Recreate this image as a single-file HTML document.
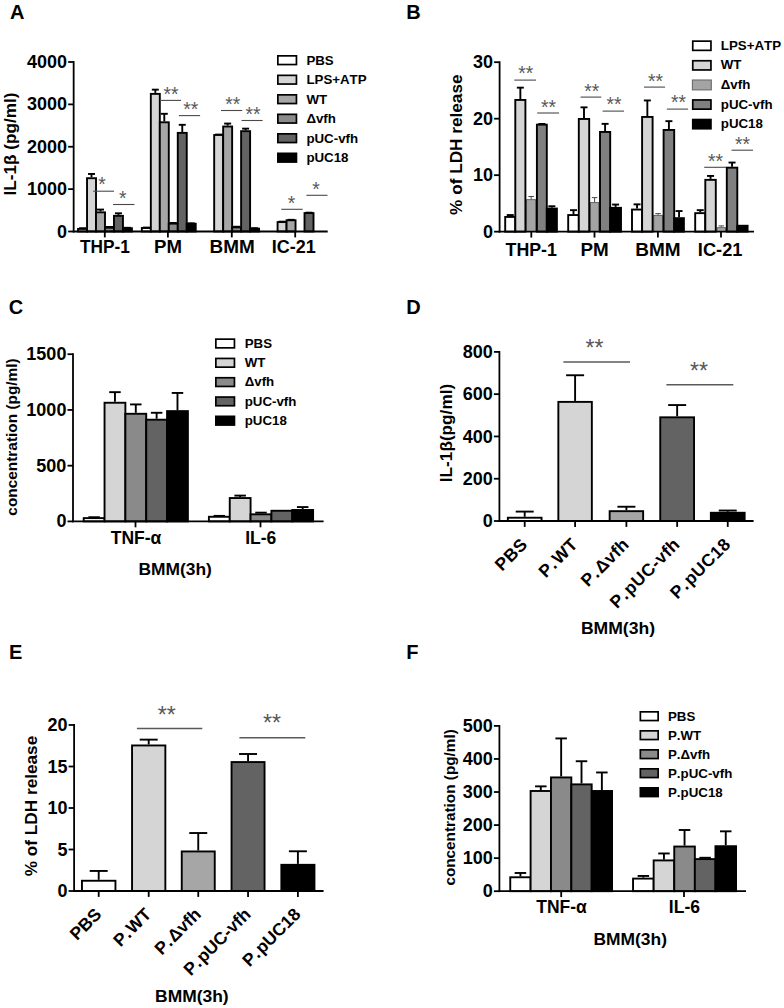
<!DOCTYPE html>
<html><head><meta charset="utf-8"><title>Figure</title>
<style>
html,body{margin:0;padding:0;background:#fff;}
svg{display:block;}
text{font-family:"Liberation Sans",sans-serif;font-kerning:none;}
</style></head>
<body>
<svg width="784" height="1008" viewBox="0 0 784 1008">
<rect x="0" y="0" width="784" height="1008" fill="#ffffff"/>
<text x="10" y="19" font-family='"Liberation Sans", sans-serif' font-size="20" font-weight="bold" text-anchor="start" fill="#000">A</text>
<text transform="translate(16,144) rotate(-90)" font-family='"Liberation Sans", sans-serif' font-size="17.2" font-weight="bold" text-anchor="middle">IL-1β (pg/ml)</text>
<line x1="82.54" y1="227.98" x2="82.54" y2="228.21" stroke="#000" stroke-width="1.9"/>
<line x1="79.04" y1="228.21" x2="86.04" y2="228.21" stroke="#000" stroke-width="1.9"/>
<rect x="78.05" y="228.93" width="8.98" height="2.57" fill="#ffffff" stroke="#000" stroke-width="1.9"/>
<line x1="91.52" y1="177.26" x2="91.52" y2="173.97" stroke="#000" stroke-width="1.9"/>
<line x1="88.02" y1="173.97" x2="95.02" y2="173.97" stroke="#000" stroke-width="1.9"/>
<rect x="87.03" y="178.21" width="8.98" height="53.29" fill="#d5d5d5" stroke="#000" stroke-width="1.9"/>
<line x1="100.5" y1="211.37" x2="100.5" y2="209.57" stroke="#000" stroke-width="1.9"/>
<line x1="97" y1="209.57" x2="104" y2="209.57" stroke="#000" stroke-width="1.9"/>
<rect x="96.01" y="212.32" width="8.98" height="19.18" fill="#a6a6a6" stroke="#000" stroke-width="1.9"/>
<line x1="109.48" y1="226.8" x2="109.48" y2="226.94" stroke="#000" stroke-width="1.9"/>
<line x1="105.98" y1="226.94" x2="112.98" y2="226.94" stroke="#000" stroke-width="1.9"/>
<rect x="104.99" y="227.75" width="8.98" height="3.75" fill="#8a8a8a" stroke="#000" stroke-width="1.9"/>
<line x1="118.46" y1="214.89" x2="118.46" y2="213.3" stroke="#000" stroke-width="1.9"/>
<line x1="114.96" y1="213.3" x2="121.96" y2="213.3" stroke="#000" stroke-width="1.9"/>
<rect x="113.97" y="215.84" width="8.98" height="15.66" fill="#636363" stroke="#000" stroke-width="1.9"/>
<line x1="127.44" y1="227.26" x2="127.44" y2="227.79" stroke="#000" stroke-width="1.9"/>
<line x1="123.94" y1="227.79" x2="130.94" y2="227.79" stroke="#000" stroke-width="1.9"/>
<rect x="122.95" y="228.21" width="8.98" height="3.29" fill="#000000" stroke="#000" stroke-width="1.9"/>
<line x1="146.34" y1="227.05" x2="146.34" y2="227.58" stroke="#000" stroke-width="1.9"/>
<line x1="142.84" y1="227.58" x2="149.84" y2="227.58" stroke="#000" stroke-width="1.9"/>
<rect x="141.85" y="228" width="8.98" height="3.5" fill="#ffffff" stroke="#000" stroke-width="1.9"/>
<line x1="155.32" y1="92.93" x2="155.32" y2="89.65" stroke="#000" stroke-width="1.9"/>
<line x1="151.82" y1="89.65" x2="158.82" y2="89.65" stroke="#000" stroke-width="1.9"/>
<rect x="150.83" y="93.88" width="8.98" height="137.62" fill="#d5d5d5" stroke="#000" stroke-width="1.9"/>
<line x1="164.3" y1="121.33" x2="164.3" y2="113.8" stroke="#000" stroke-width="1.9"/>
<line x1="160.8" y1="113.8" x2="167.8" y2="113.8" stroke="#000" stroke-width="1.9"/>
<rect x="159.81" y="122.28" width="8.98" height="109.22" fill="#a6a6a6" stroke="#000" stroke-width="1.9"/>
<line x1="173.28" y1="222.69" x2="173.28" y2="222.92" stroke="#000" stroke-width="1.9"/>
<line x1="169.78" y1="222.92" x2="176.78" y2="222.92" stroke="#000" stroke-width="1.9"/>
<rect x="168.79" y="223.64" width="8.98" height="7.86" fill="#8a8a8a" stroke="#000" stroke-width="1.9"/>
<line x1="182.26" y1="131.92" x2="182.26" y2="124.82" stroke="#000" stroke-width="1.9"/>
<line x1="178.76" y1="124.82" x2="185.76" y2="124.82" stroke="#000" stroke-width="1.9"/>
<rect x="177.77" y="132.87" width="8.98" height="98.63" fill="#636363" stroke="#000" stroke-width="1.9"/>
<line x1="191.24" y1="222.81" x2="191.24" y2="223.34" stroke="#000" stroke-width="1.9"/>
<line x1="187.74" y1="223.34" x2="194.74" y2="223.34" stroke="#000" stroke-width="1.9"/>
<rect x="186.75" y="223.76" width="8.98" height="7.74" fill="#000000" stroke="#000" stroke-width="1.9"/>
<line x1="218.67" y1="134.04" x2="218.67" y2="134.56" stroke="#000" stroke-width="1.9"/>
<line x1="215.17" y1="134.56" x2="222.17" y2="134.56" stroke="#000" stroke-width="1.9"/>
<rect x="214.18" y="134.99" width="8.98" height="96.51" fill="#d5d5d5" stroke="#000" stroke-width="1.9"/>
<line x1="227.65" y1="125.56" x2="227.65" y2="123.55" stroke="#000" stroke-width="1.9"/>
<line x1="224.15" y1="123.55" x2="231.15" y2="123.55" stroke="#000" stroke-width="1.9"/>
<rect x="223.16" y="126.51" width="8.98" height="104.99" fill="#a6a6a6" stroke="#000" stroke-width="1.9"/>
<line x1="236.63" y1="226.41" x2="236.63" y2="226.73" stroke="#000" stroke-width="1.9"/>
<line x1="233.13" y1="226.73" x2="240.13" y2="226.73" stroke="#000" stroke-width="1.9"/>
<rect x="232.14" y="227.36" width="8.98" height="4.14" fill="#8a8a8a" stroke="#000" stroke-width="1.9"/>
<line x1="245.61" y1="130.22" x2="245.61" y2="128.63" stroke="#000" stroke-width="1.9"/>
<line x1="242.11" y1="128.63" x2="249.11" y2="128.63" stroke="#000" stroke-width="1.9"/>
<rect x="241.12" y="131.17" width="8.98" height="100.33" fill="#636363" stroke="#000" stroke-width="1.9"/>
<line x1="254.59" y1="227.69" x2="254.59" y2="228.21" stroke="#000" stroke-width="1.9"/>
<line x1="251.09" y1="228.21" x2="258.09" y2="228.21" stroke="#000" stroke-width="1.9"/>
<rect x="250.1" y="228.64" width="8.98" height="2.86" fill="#000000" stroke="#000" stroke-width="1.9"/>
<line x1="282.07" y1="221.12" x2="282.07" y2="221.64" stroke="#000" stroke-width="1.9"/>
<line x1="278.57" y1="221.64" x2="285.57" y2="221.64" stroke="#000" stroke-width="1.9"/>
<rect x="277.58" y="222.07" width="8.98" height="9.43" fill="#d5d5d5" stroke="#000" stroke-width="1.9"/>
<line x1="291.05" y1="219.3" x2="291.05" y2="219.82" stroke="#000" stroke-width="1.9"/>
<line x1="287.55" y1="219.82" x2="294.55" y2="219.82" stroke="#000" stroke-width="1.9"/>
<rect x="286.56" y="220.25" width="8.98" height="11.25" fill="#a6a6a6" stroke="#000" stroke-width="1.9"/>
<line x1="309.01" y1="212.13" x2="309.01" y2="212.66" stroke="#000" stroke-width="1.9"/>
<line x1="305.51" y1="212.66" x2="312.51" y2="212.66" stroke="#000" stroke-width="1.9"/>
<rect x="304.52" y="213.08" width="8.98" height="18.42" fill="#636363" stroke="#000" stroke-width="1.9"/>
<line x1="73.65" y1="61.1" x2="73.65" y2="232.4" stroke="#000" stroke-width="1.8"/>
<line x1="68.15" y1="231.5" x2="73.65" y2="231.5" stroke="#000" stroke-width="1.8"/>
<text x="67.05" y="237.55" font-family='"Liberation Sans", sans-serif' font-size="18" font-weight="bold" text-anchor="end" fill="#000">0</text>
<line x1="68.15" y1="189.12" x2="73.65" y2="189.12" stroke="#000" stroke-width="1.8"/>
<text x="67.05" y="195.18" font-family='"Liberation Sans", sans-serif' font-size="18" font-weight="bold" text-anchor="end" fill="#000">1000</text>
<line x1="68.15" y1="146.75" x2="73.65" y2="146.75" stroke="#000" stroke-width="1.8"/>
<text x="67.05" y="152.8" font-family='"Liberation Sans", sans-serif' font-size="18" font-weight="bold" text-anchor="end" fill="#000">2000</text>
<line x1="68.15" y1="104.38" x2="73.65" y2="104.38" stroke="#000" stroke-width="1.8"/>
<text x="67.05" y="110.42" font-family='"Liberation Sans", sans-serif' font-size="18" font-weight="bold" text-anchor="end" fill="#000">3000</text>
<line x1="68.15" y1="62" x2="73.65" y2="62" stroke="#000" stroke-width="1.8"/>
<text x="67.05" y="68.05" font-family='"Liberation Sans", sans-serif' font-size="18" font-weight="bold" text-anchor="end" fill="#000">4000</text>
<line x1="72.75" y1="231.5" x2="327.7" y2="231.5" stroke="#000" stroke-width="1.8"/>
<line x1="104.8" y1="231.5" x2="104.8" y2="237.4" stroke="#000" stroke-width="1.8"/>
<line x1="167.9" y1="231.5" x2="167.9" y2="237.4" stroke="#000" stroke-width="1.8"/>
<line x1="231.8" y1="231.5" x2="231.8" y2="237.4" stroke="#000" stroke-width="1.8"/>
<line x1="295.2" y1="231.5" x2="295.2" y2="237.4" stroke="#000" stroke-width="1.8"/>
<text x="80.08" y="253.4" font-family='"Liberation Sans", sans-serif' font-size="17.5" font-weight="bold" textLength="49.82" lengthAdjust="spacingAndGlyphs">THP-1</text>
<text x="154.14" y="253.4" font-family='"Liberation Sans", sans-serif' font-size="17.5" font-weight="bold" textLength="27.91" lengthAdjust="spacingAndGlyphs">PM</text>
<text x="209.52" y="253.4" font-family='"Liberation Sans", sans-serif' font-size="17.5" font-weight="bold" textLength="45.17" lengthAdjust="spacingAndGlyphs">BMM</text>
<text x="271.79" y="253.4" font-family='"Liberation Sans", sans-serif' font-size="17.5" font-weight="bold" textLength="44.02" lengthAdjust="spacingAndGlyphs">IC-21</text>
<line x1="93.2" y1="191.2" x2="114" y2="191.2" stroke="#4a4a4a" stroke-width="1.1"/>
<text x="102" y="191.4" font-family='"Liberation Sans", sans-serif' font-size="19.3" text-anchor="middle" fill="#585858">*</text>
<line x1="113" y1="204.5" x2="134.5" y2="204.5" stroke="#4a4a4a" stroke-width="1.1"/>
<text x="122.8" y="205.2" font-family='"Liberation Sans", sans-serif' font-size="19.3" text-anchor="middle" fill="#585858">*</text>
<line x1="160" y1="100.4" x2="181" y2="100.4" stroke="#4a4a4a" stroke-width="1.1"/>
<text x="171.1" y="100.5" font-family='"Liberation Sans", sans-serif' font-size="19.3" text-anchor="middle" fill="#585858">**</text>
<line x1="178.9" y1="115.6" x2="200.1" y2="115.6" stroke="#4a4a4a" stroke-width="1.1"/>
<text x="190.65" y="115.8" font-family='"Liberation Sans", sans-serif' font-size="19.3" text-anchor="middle" fill="#585858">**</text>
<line x1="221" y1="110.5" x2="242.2" y2="110.5" stroke="#4a4a4a" stroke-width="1.1"/>
<text x="232.8" y="110.9" font-family='"Liberation Sans", sans-serif' font-size="19.3" text-anchor="middle" fill="#585858">**</text>
<line x1="241.5" y1="120.5" x2="262.6" y2="120.5" stroke="#4a4a4a" stroke-width="1.1"/>
<text x="253" y="121.2" font-family='"Liberation Sans", sans-serif' font-size="19.3" text-anchor="middle" fill="#585858">**</text>
<line x1="281.3" y1="209.3" x2="302.7" y2="209.3" stroke="#4a4a4a" stroke-width="1.1"/>
<text x="291.6" y="209.8" font-family='"Liberation Sans", sans-serif' font-size="19.3" text-anchor="middle" fill="#585858">*</text>
<line x1="306.4" y1="195.3" x2="327.5" y2="195.3" stroke="#4a4a4a" stroke-width="1.1"/>
<text x="316" y="195.9" font-family='"Liberation Sans", sans-serif' font-size="19.3" text-anchor="middle" fill="#585858">*</text>
<rect x="277.85" y="55.85" width="18.6" height="8.7" fill="#ffffff" stroke="#000000" stroke-width="1.7"/>
<text x="306.4" y="64.5" font-family='"Liberation Sans", sans-serif' font-size="13.3" font-weight="bold" text-anchor="start" fill="#000">PBS</text>
<rect x="277.85" y="75.35" width="18.6" height="8.7" fill="#d5d5d5" stroke="#000000" stroke-width="1.7"/>
<text x="306.4" y="84" font-family='"Liberation Sans", sans-serif' font-size="13.3" font-weight="bold" text-anchor="start" fill="#000">LPS+ATP</text>
<rect x="277.85" y="94.85" width="18.6" height="8.7" fill="#a6a6a6" stroke="#000000" stroke-width="1.7"/>
<text x="306.4" y="103.5" font-family='"Liberation Sans", sans-serif' font-size="13.3" font-weight="bold" text-anchor="start" fill="#000">WT</text>
<rect x="277.85" y="114.35" width="18.6" height="8.7" fill="#8a8a8a" stroke="#000000" stroke-width="1.7"/>
<text x="306.4" y="123" font-family='"Liberation Sans", sans-serif' font-size="13.3" font-weight="bold" text-anchor="start" fill="#000">Δvfh</text>
<rect x="277.85" y="133.85" width="18.6" height="8.7" fill="#636363" stroke="#000000" stroke-width="1.7"/>
<text x="306.4" y="142.5" font-family='"Liberation Sans", sans-serif' font-size="13.3" font-weight="bold" text-anchor="start" fill="#000">pUC-vfh</text>
<rect x="277.85" y="153.35" width="18.6" height="8.7" fill="#000000" stroke="#000000" stroke-width="1.7"/>
<text x="306.4" y="162" font-family='"Liberation Sans", sans-serif' font-size="13.3" font-weight="bold" text-anchor="start" fill="#000">pUC18</text>
<text x="406.3" y="18.6" font-family='"Liberation Sans", sans-serif' font-size="20" font-weight="bold" text-anchor="start" fill="#000">B</text>
<text transform="translate(462.3,144.7) rotate(-90)" font-family='"Liberation Sans", sans-serif' font-size="17.2" font-weight="bold" text-anchor="middle">% of LDH release</text>
<line x1="531.15" y1="199.3" x2="531.15" y2="196.5" stroke="#4a4a4a" stroke-width="1"/>
<line x1="528.4" y1="196.5" x2="533.9" y2="196.5" stroke="#4a4a4a" stroke-width="1"/>
<rect x="526.6" y="199.7" width="9.1" height="31.95" fill="#a4a4a4" stroke="#4a4a4a" stroke-width="0.8"/>
<line x1="510.25" y1="216" x2="510.25" y2="215.05" stroke="#000000" stroke-width="1.9"/>
<line x1="506.75" y1="215.05" x2="513.75" y2="215.05" stroke="#000000" stroke-width="1.9"/>
<rect x="505.2" y="216.95" width="10.1" height="14.7" fill="#ffffff" stroke="#000000" stroke-width="1.9"/>
<line x1="520.35" y1="99" x2="520.35" y2="87.65" stroke="#000000" stroke-width="1.9"/>
<line x1="516.85" y1="87.65" x2="523.85" y2="87.65" stroke="#000000" stroke-width="1.9"/>
<rect x="515.3" y="99.95" width="10.1" height="131.7" fill="#d5d5d5" stroke="#000000" stroke-width="1.9"/>
<line x1="541.85" y1="123.7" x2="541.85" y2="123.95" stroke="#000000" stroke-width="1.9"/>
<line x1="538.35" y1="123.95" x2="545.35" y2="123.95" stroke="#000000" stroke-width="1.9"/>
<rect x="536.9" y="124.65" width="9.9" height="107" fill="#808080" stroke="#000000" stroke-width="1.9"/>
<line x1="551.85" y1="207.6" x2="551.85" y2="206.25" stroke="#000000" stroke-width="1.9"/>
<line x1="548.35" y1="206.25" x2="555.35" y2="206.25" stroke="#000000" stroke-width="1.9"/>
<rect x="546.8" y="208.55" width="10.1" height="23.1" fill="#000000" stroke="#000000" stroke-width="1.9"/>
<line x1="594.6" y1="202.25" x2="594.6" y2="197.6" stroke="#4a4a4a" stroke-width="1"/>
<line x1="591.85" y1="197.6" x2="597.35" y2="197.6" stroke="#4a4a4a" stroke-width="1"/>
<rect x="590.4" y="202.65" width="8.4" height="29" fill="#a4a4a4" stroke="#4a4a4a" stroke-width="0.8"/>
<line x1="573.5" y1="214.1" x2="573.5" y2="210.15" stroke="#000000" stroke-width="1.9"/>
<line x1="570" y1="210.15" x2="577" y2="210.15" stroke="#000000" stroke-width="1.9"/>
<rect x="568.2" y="215.05" width="10.6" height="16.6" fill="#ffffff" stroke="#000000" stroke-width="1.9"/>
<line x1="584" y1="118" x2="584" y2="107.35" stroke="#000000" stroke-width="1.9"/>
<line x1="580.5" y1="107.35" x2="587.5" y2="107.35" stroke="#000000" stroke-width="1.9"/>
<rect x="578.8" y="118.95" width="10.4" height="112.7" fill="#d5d5d5" stroke="#000000" stroke-width="1.9"/>
<line x1="605.1" y1="131" x2="605.1" y2="123.85" stroke="#000000" stroke-width="1.9"/>
<line x1="601.6" y1="123.85" x2="608.6" y2="123.85" stroke="#000000" stroke-width="1.9"/>
<rect x="600" y="131.95" width="10.2" height="99.7" fill="#808080" stroke="#000000" stroke-width="1.9"/>
<line x1="615.6" y1="206.9" x2="615.6" y2="204.55" stroke="#000000" stroke-width="1.9"/>
<line x1="612.1" y1="204.55" x2="619.1" y2="204.55" stroke="#000000" stroke-width="1.9"/>
<rect x="610.2" y="207.85" width="10.8" height="23.8" fill="#000000" stroke="#000000" stroke-width="1.9"/>
<line x1="658.1" y1="214.9" x2="658.1" y2="213.6" stroke="#4a4a4a" stroke-width="1"/>
<line x1="655.35" y1="213.6" x2="660.85" y2="213.6" stroke="#4a4a4a" stroke-width="1"/>
<rect x="653.8" y="215.3" width="8.6" height="16.35" fill="#a4a4a4" stroke="#4a4a4a" stroke-width="0.8"/>
<line x1="637.05" y1="208.6" x2="637.05" y2="204.35" stroke="#000000" stroke-width="1.9"/>
<line x1="633.55" y1="204.35" x2="640.55" y2="204.35" stroke="#000000" stroke-width="1.9"/>
<rect x="632" y="209.55" width="10.1" height="22.1" fill="#ffffff" stroke="#000000" stroke-width="1.9"/>
<line x1="647.35" y1="116" x2="647.35" y2="100.45" stroke="#000000" stroke-width="1.9"/>
<line x1="643.85" y1="100.45" x2="650.85" y2="100.45" stroke="#000000" stroke-width="1.9"/>
<rect x="642.1" y="116.95" width="10.5" height="114.7" fill="#d5d5d5" stroke="#000000" stroke-width="1.9"/>
<line x1="668.9" y1="129" x2="668.9" y2="121.15" stroke="#000000" stroke-width="1.9"/>
<line x1="665.4" y1="121.15" x2="672.4" y2="121.15" stroke="#000000" stroke-width="1.9"/>
<rect x="663.6" y="129.95" width="10.6" height="101.7" fill="#808080" stroke="#000000" stroke-width="1.9"/>
<line x1="679.05" y1="217.2" x2="679.05" y2="211.05" stroke="#000000" stroke-width="1.9"/>
<line x1="675.55" y1="211.05" x2="682.55" y2="211.05" stroke="#000000" stroke-width="1.9"/>
<rect x="674.2" y="218.15" width="9.7" height="13.5" fill="#000000" stroke="#000000" stroke-width="1.9"/>
<line x1="721.3" y1="227.3" x2="721.3" y2="225.9" stroke="#4a4a4a" stroke-width="1"/>
<line x1="718.55" y1="225.9" x2="724.05" y2="225.9" stroke="#4a4a4a" stroke-width="1"/>
<rect x="717" y="227.7" width="8.6" height="3.95" fill="#a4a4a4" stroke="#4a4a4a" stroke-width="0.8"/>
<line x1="700.25" y1="212.2" x2="700.25" y2="210.15" stroke="#000000" stroke-width="1.9"/>
<line x1="696.75" y1="210.15" x2="703.75" y2="210.15" stroke="#000000" stroke-width="1.9"/>
<rect x="695.2" y="213.15" width="10.1" height="18.5" fill="#ffffff" stroke="#000000" stroke-width="1.9"/>
<line x1="710.55" y1="178.9" x2="710.55" y2="175.95" stroke="#000000" stroke-width="1.9"/>
<line x1="707.05" y1="175.95" x2="714.05" y2="175.95" stroke="#000000" stroke-width="1.9"/>
<rect x="705.3" y="179.85" width="10.5" height="51.8" fill="#d5d5d5" stroke="#000000" stroke-width="1.9"/>
<line x1="732.05" y1="166.7" x2="732.05" y2="162.55" stroke="#000000" stroke-width="1.9"/>
<line x1="728.55" y1="162.55" x2="735.55" y2="162.55" stroke="#000000" stroke-width="1.9"/>
<rect x="726.8" y="167.65" width="10.5" height="64" fill="#808080" stroke="#000000" stroke-width="1.9"/>
<rect x="737.3" y="225.75" width="10.3" height="5.9" fill="#000000" stroke="#000000" stroke-width="1.9"/>
<line x1="499.6" y1="61.3" x2="499.6" y2="232.55" stroke="#000" stroke-width="1.8"/>
<line x1="494.1" y1="231.65" x2="499.6" y2="231.65" stroke="#000" stroke-width="1.8"/>
<text x="493" y="237.7" font-family='"Liberation Sans", sans-serif' font-size="18" font-weight="bold" text-anchor="end" fill="#000">0</text>
<line x1="494.1" y1="175.17" x2="499.6" y2="175.17" stroke="#000" stroke-width="1.8"/>
<text x="493" y="181.22" font-family='"Liberation Sans", sans-serif' font-size="18" font-weight="bold" text-anchor="end" fill="#000">10</text>
<line x1="494.1" y1="118.68" x2="499.6" y2="118.68" stroke="#000" stroke-width="1.8"/>
<text x="493" y="124.73" font-family='"Liberation Sans", sans-serif' font-size="18" font-weight="bold" text-anchor="end" fill="#000">20</text>
<line x1="494.1" y1="62.2" x2="499.6" y2="62.2" stroke="#000" stroke-width="1.8"/>
<text x="493" y="68.25" font-family='"Liberation Sans", sans-serif' font-size="18" font-weight="bold" text-anchor="end" fill="#000">30</text>
<line x1="498.7" y1="231.65" x2="754" y2="231.65" stroke="#000" stroke-width="1.8"/>
<line x1="531.3" y1="231.65" x2="531.3" y2="237.55" stroke="#000" stroke-width="1.8"/>
<line x1="594.5" y1="231.65" x2="594.5" y2="237.55" stroke="#000" stroke-width="1.8"/>
<line x1="657.9" y1="231.65" x2="657.9" y2="237.55" stroke="#000" stroke-width="1.8"/>
<line x1="721" y1="231.65" x2="721" y2="237.55" stroke="#000" stroke-width="1.8"/>
<text x="505.58" y="256" font-family='"Liberation Sans", sans-serif' font-size="17.5" font-weight="bold" textLength="51.34" lengthAdjust="spacingAndGlyphs">THP-1</text>
<text x="580.53" y="256" font-family='"Liberation Sans", sans-serif' font-size="17.5" font-weight="bold" textLength="28.24" lengthAdjust="spacingAndGlyphs">PM</text>
<text x="635.32" y="256" font-family='"Liberation Sans", sans-serif' font-size="17.5" font-weight="bold" textLength="45.38" lengthAdjust="spacingAndGlyphs">BMM</text>
<text x="697.87" y="256" font-family='"Liberation Sans", sans-serif' font-size="17.5" font-weight="bold" textLength="44.54" lengthAdjust="spacingAndGlyphs">IC-21</text>
<line x1="514.3" y1="80.1" x2="536" y2="80.1" stroke="#4a4a4a" stroke-width="1.1"/>
<text x="525.8" y="80.3" font-family='"Liberation Sans", sans-serif' font-size="19.3" text-anchor="middle" fill="#585858">**</text>
<line x1="537.2" y1="113" x2="559" y2="113" stroke="#4a4a4a" stroke-width="1.1"/>
<text x="548.5" y="113.9" font-family='"Liberation Sans", sans-serif' font-size="19.3" text-anchor="middle" fill="#585858">**</text>
<line x1="580.6" y1="97.1" x2="601.3" y2="97.1" stroke="#4a4a4a" stroke-width="1.1"/>
<text x="591.7" y="97.5" font-family='"Liberation Sans", sans-serif' font-size="19.3" text-anchor="middle" fill="#585858">**</text>
<line x1="602.6" y1="111.1" x2="624" y2="111.1" stroke="#4a4a4a" stroke-width="1.1"/>
<text x="614.1" y="111.1" font-family='"Liberation Sans", sans-serif' font-size="19.3" text-anchor="middle" fill="#585858">**</text>
<line x1="644" y1="87.1" x2="665.1" y2="87.1" stroke="#4a4a4a" stroke-width="1.1"/>
<text x="655.4" y="87.6" font-family='"Liberation Sans", sans-serif' font-size="19.3" text-anchor="middle" fill="#585858">**</text>
<line x1="666.9" y1="109.1" x2="688.1" y2="109.1" stroke="#4a4a4a" stroke-width="1.1"/>
<text x="678.4" y="109.3" font-family='"Liberation Sans", sans-serif' font-size="19.3" text-anchor="middle" fill="#585858">**</text>
<line x1="704.2" y1="167.3" x2="726" y2="167.3" stroke="#4a4a4a" stroke-width="1.1"/>
<text x="715.4" y="167.9" font-family='"Liberation Sans", sans-serif' font-size="19.3" text-anchor="middle" fill="#585858">**</text>
<line x1="731.5" y1="150.2" x2="753" y2="150.2" stroke="#4a4a4a" stroke-width="1.1"/>
<text x="742.5" y="150.7" font-family='"Liberation Sans", sans-serif' font-size="19.3" text-anchor="middle" fill="#585858">**</text>
<rect x="692.75" y="41.15" width="18.2" height="9.2" fill="#ffffff" stroke="#000000" stroke-width="1.7"/>
<text x="720.8" y="49.7" font-family='"Liberation Sans", sans-serif' font-size="13.3" font-weight="bold" text-anchor="start" fill="#000">LPS+ATP</text>
<rect x="692.75" y="60.75" width="18.2" height="9.2" fill="#d5d5d5" stroke="#000000" stroke-width="1.7"/>
<text x="720.8" y="69.3" font-family='"Liberation Sans", sans-serif' font-size="13.3" font-weight="bold" text-anchor="start" fill="#000">WT</text>
<rect x="692.4" y="80" width="18.9" height="9.9" fill="#a4a4a4" stroke="#6a6a6a" stroke-width="1.1"/>
<text x="720.8" y="88.9" font-family='"Liberation Sans", sans-serif' font-size="13.3" font-weight="bold" text-anchor="start" fill="#000">Δvfh</text>
<rect x="692.75" y="99.95" width="18.2" height="9.2" fill="#808080" stroke="#000000" stroke-width="1.7"/>
<text x="720.8" y="108.5" font-family='"Liberation Sans", sans-serif' font-size="13.3" font-weight="bold" text-anchor="start" fill="#000">pUC-vfh</text>
<rect x="692.75" y="119.55" width="18.2" height="9.2" fill="#000000" stroke="#000000" stroke-width="1.7"/>
<text x="720.8" y="128.1" font-family='"Liberation Sans", sans-serif' font-size="13.3" font-weight="bold" text-anchor="start" fill="#000">pUC18</text>
<text x="8.7" y="314.4" font-family='"Liberation Sans", sans-serif' font-size="20" font-weight="bold" text-anchor="start" fill="#000">C</text>
<text transform="translate(17,437) rotate(-90)" font-family='"Liberation Sans", sans-serif' font-size="15.4" font-weight="bold" text-anchor="middle">concentration (pg/ml)</text>
<line x1="94.12" y1="517.16" x2="94.12" y2="517.22" stroke="#000" stroke-width="1.9"/>
<line x1="88.37" y1="517.22" x2="99.87" y2="517.22" stroke="#000" stroke-width="1.9"/>
<rect x="83.7" y="518.11" width="20.84" height="3.29" fill="#ffffff" stroke="#000" stroke-width="1.9"/>
<line x1="114.96" y1="401.8" x2="114.96" y2="392.16" stroke="#000" stroke-width="1.9"/>
<line x1="109.21" y1="392.16" x2="120.71" y2="392.16" stroke="#000" stroke-width="1.9"/>
<rect x="104.54" y="402.75" width="20.84" height="118.65" fill="#d5d5d5" stroke="#000" stroke-width="1.9"/>
<line x1="135.8" y1="412.83" x2="135.8" y2="404.42" stroke="#000" stroke-width="1.9"/>
<line x1="130.05" y1="404.42" x2="141.55" y2="404.42" stroke="#000" stroke-width="1.9"/>
<rect x="125.38" y="413.78" width="20.84" height="107.62" fill="#8a8a8a" stroke="#000" stroke-width="1.9"/>
<line x1="156.64" y1="418.74" x2="156.64" y2="412.78" stroke="#000" stroke-width="1.9"/>
<line x1="150.89" y1="412.78" x2="162.39" y2="412.78" stroke="#000" stroke-width="1.9"/>
<rect x="146.22" y="419.69" width="20.84" height="101.71" fill="#636363" stroke="#000" stroke-width="1.9"/>
<line x1="177.48" y1="410.16" x2="177.48" y2="392.94" stroke="#000" stroke-width="1.9"/>
<line x1="171.73" y1="392.94" x2="183.23" y2="392.94" stroke="#000" stroke-width="1.9"/>
<rect x="167.06" y="411.11" width="20.84" height="110.29" fill="#000000" stroke="#000" stroke-width="1.9"/>
<line x1="219.32" y1="515.83" x2="219.32" y2="515.88" stroke="#000" stroke-width="1.9"/>
<line x1="213.57" y1="515.88" x2="225.07" y2="515.88" stroke="#000" stroke-width="1.9"/>
<rect x="208.9" y="516.78" width="20.84" height="4.62" fill="#ffffff" stroke="#000" stroke-width="1.9"/>
<line x1="240.16" y1="497.1" x2="240.16" y2="495.6" stroke="#000" stroke-width="1.9"/>
<line x1="234.41" y1="495.6" x2="245.91" y2="495.6" stroke="#000" stroke-width="1.9"/>
<rect x="229.74" y="498.05" width="20.84" height="23.35" fill="#d5d5d5" stroke="#000" stroke-width="1.9"/>
<line x1="261" y1="513.37" x2="261" y2="512.65" stroke="#000" stroke-width="1.9"/>
<line x1="255.25" y1="512.65" x2="266.75" y2="512.65" stroke="#000" stroke-width="1.9"/>
<rect x="250.58" y="514.32" width="20.84" height="7.08" fill="#8a8a8a" stroke="#000" stroke-width="1.9"/>
<rect x="271.42" y="510.76" width="20.84" height="10.64" fill="#636363" stroke="#000" stroke-width="1.9"/>
<line x1="302.68" y1="509.03" x2="302.68" y2="507.08" stroke="#000" stroke-width="1.9"/>
<line x1="296.93" y1="507.08" x2="308.43" y2="507.08" stroke="#000" stroke-width="1.9"/>
<rect x="292.26" y="509.98" width="20.84" height="11.42" fill="#000000" stroke="#000" stroke-width="1.9"/>
<line x1="73" y1="353.3" x2="73" y2="522.3" stroke="#000" stroke-width="1.8"/>
<line x1="67.5" y1="521.4" x2="73" y2="521.4" stroke="#000" stroke-width="1.8"/>
<text x="66.4" y="527.45" font-family='"Liberation Sans", sans-serif' font-size="18" font-weight="bold" text-anchor="end" fill="#000">0</text>
<line x1="67.5" y1="465.67" x2="73" y2="465.67" stroke="#000" stroke-width="1.8"/>
<text x="66.4" y="471.72" font-family='"Liberation Sans", sans-serif' font-size="18" font-weight="bold" text-anchor="end" fill="#000">500</text>
<line x1="67.5" y1="409.93" x2="73" y2="409.93" stroke="#000" stroke-width="1.8"/>
<text x="66.4" y="415.98" font-family='"Liberation Sans", sans-serif' font-size="18" font-weight="bold" text-anchor="end" fill="#000">1000</text>
<line x1="67.5" y1="354.2" x2="73" y2="354.2" stroke="#000" stroke-width="1.8"/>
<text x="66.4" y="360.25" font-family='"Liberation Sans", sans-serif' font-size="18" font-weight="bold" text-anchor="end" fill="#000">1500</text>
<line x1="72.1" y1="521.4" x2="323.6" y2="521.4" stroke="#000" stroke-width="1.8"/>
<line x1="135.5" y1="521.4" x2="135.5" y2="527.3" stroke="#000" stroke-width="1.8"/>
<line x1="260.5" y1="521.4" x2="260.5" y2="527.3" stroke="#000" stroke-width="1.8"/>
<text x="136" y="543.7" font-family='"Liberation Sans", sans-serif' font-size="17.5" font-weight="bold" text-anchor="middle" fill="#000">TNF-α</text>
<text x="260.8" y="543.7" font-family='"Liberation Sans", sans-serif' font-size="17.5" font-weight="bold" text-anchor="middle" fill="#000">IL-6</text>
<text x="138.43" y="575.3" font-family='"Liberation Sans", sans-serif' font-size="17.2" font-weight="bold" textLength="73.47" lengthAdjust="spacingAndGlyphs">BMM(3h)</text>
<rect x="215.85" y="339.15" width="18.6" height="8.7" fill="#ffffff" stroke="#000000" stroke-width="1.7"/>
<text x="244.7" y="347.8" font-family='"Liberation Sans", sans-serif' font-size="13.3" font-weight="bold" text-anchor="start" fill="#000">PBS</text>
<rect x="215.85" y="358.45" width="18.6" height="8.7" fill="#d5d5d5" stroke="#000000" stroke-width="1.7"/>
<text x="244.7" y="367.1" font-family='"Liberation Sans", sans-serif' font-size="13.3" font-weight="bold" text-anchor="start" fill="#000">WT</text>
<rect x="215.85" y="377.75" width="18.6" height="8.7" fill="#8a8a8a" stroke="#000000" stroke-width="1.7"/>
<text x="244.7" y="386.4" font-family='"Liberation Sans", sans-serif' font-size="13.3" font-weight="bold" text-anchor="start" fill="#000">Δvfh</text>
<rect x="215.85" y="397.05" width="18.6" height="8.7" fill="#636363" stroke="#000000" stroke-width="1.7"/>
<text x="244.7" y="405.7" font-family='"Liberation Sans", sans-serif' font-size="13.3" font-weight="bold" text-anchor="start" fill="#000">pUC-vfh</text>
<rect x="215.85" y="416.35" width="18.6" height="8.7" fill="#000000" stroke="#000000" stroke-width="1.7"/>
<text x="244.7" y="425" font-family='"Liberation Sans", sans-serif' font-size="13.3" font-weight="bold" text-anchor="start" fill="#000">pUC18</text>
<text x="406.3" y="314" font-family='"Liberation Sans", sans-serif' font-size="20" font-weight="bold" text-anchor="start" fill="#000">D</text>
<text transform="translate(451.7,433) rotate(-90)" font-family='"Liberation Sans", sans-serif' font-size="17.2" font-weight="bold" text-anchor="middle">IL-1β(pg/ml)</text>
<line x1="524.7" y1="516.77" x2="524.7" y2="511.59" stroke="#000" stroke-width="1.9"/>
<line x1="515.7" y1="511.59" x2="533.7" y2="511.59" stroke="#000" stroke-width="1.9"/>
<rect x="507.85" y="517.72" width="33.7" height="3.28" fill="#ffffff" stroke="#000" stroke-width="1.9"/>
<line x1="575.1" y1="400.94" x2="575.1" y2="375.26" stroke="#000" stroke-width="1.9"/>
<line x1="566.1" y1="375.26" x2="584.1" y2="375.26" stroke="#000" stroke-width="1.9"/>
<rect x="558.35" y="401.89" width="33.5" height="119.11" fill="#d5d5d5" stroke="#000" stroke-width="1.9"/>
<line x1="626.4" y1="510.22" x2="626.4" y2="506.73" stroke="#000" stroke-width="1.9"/>
<line x1="617.4" y1="506.73" x2="635.4" y2="506.73" stroke="#000" stroke-width="1.9"/>
<rect x="609.65" y="511.17" width="33.5" height="9.83" fill="#a6a6a6" stroke="#000" stroke-width="1.9"/>
<line x1="677.15" y1="416.37" x2="677.15" y2="405.06" stroke="#000" stroke-width="1.9"/>
<line x1="668.15" y1="405.06" x2="686.15" y2="405.06" stroke="#000" stroke-width="1.9"/>
<rect x="660.25" y="417.32" width="33.8" height="103.68" fill="#636363" stroke="#000" stroke-width="1.9"/>
<line x1="727.75" y1="511.81" x2="727.75" y2="510.54" stroke="#000" stroke-width="1.9"/>
<line x1="718.75" y1="510.54" x2="736.75" y2="510.54" stroke="#000" stroke-width="1.9"/>
<rect x="710.85" y="512.76" width="33.8" height="8.24" fill="#000000" stroke="#000" stroke-width="1.9"/>
<line x1="499.4" y1="351" x2="499.4" y2="521.9" stroke="#000" stroke-width="1.8"/>
<line x1="493.9" y1="521" x2="499.4" y2="521" stroke="#000" stroke-width="1.8"/>
<text x="492.8" y="527.05" font-family='"Liberation Sans", sans-serif' font-size="18" font-weight="bold" text-anchor="end" fill="#000">0</text>
<line x1="493.9" y1="478.73" x2="499.4" y2="478.73" stroke="#000" stroke-width="1.8"/>
<text x="492.8" y="484.78" font-family='"Liberation Sans", sans-serif' font-size="18" font-weight="bold" text-anchor="end" fill="#000">200</text>
<line x1="493.9" y1="436.45" x2="499.4" y2="436.45" stroke="#000" stroke-width="1.8"/>
<text x="492.8" y="442.5" font-family='"Liberation Sans", sans-serif' font-size="18" font-weight="bold" text-anchor="end" fill="#000">400</text>
<line x1="493.9" y1="394.17" x2="499.4" y2="394.17" stroke="#000" stroke-width="1.8"/>
<text x="492.8" y="400.22" font-family='"Liberation Sans", sans-serif' font-size="18" font-weight="bold" text-anchor="end" fill="#000">600</text>
<line x1="493.9" y1="351.9" x2="499.4" y2="351.9" stroke="#000" stroke-width="1.8"/>
<text x="492.8" y="357.95" font-family='"Liberation Sans", sans-serif' font-size="18" font-weight="bold" text-anchor="end" fill="#000">800</text>
<line x1="498.5" y1="521" x2="753.6" y2="521" stroke="#000" stroke-width="1.8"/>
<line x1="524.7" y1="521" x2="524.7" y2="526.9" stroke="#000" stroke-width="1.8"/>
<line x1="575.1" y1="521" x2="575.1" y2="526.9" stroke="#000" stroke-width="1.8"/>
<line x1="626.4" y1="521" x2="626.4" y2="526.9" stroke="#000" stroke-width="1.8"/>
<line x1="677.15" y1="521" x2="677.15" y2="526.9" stroke="#000" stroke-width="1.8"/>
<line x1="727.75" y1="521" x2="727.75" y2="526.9" stroke="#000" stroke-width="1.8"/>
<text transform="translate(524.15,540.9) rotate(-45)" font-family='"Liberation Sans", sans-serif' font-size="17.5" font-weight="bold" text-anchor="end" letter-spacing="0.5" dy="6.26">PBS</text>
<text transform="translate(574.55,540.9) rotate(-45)" font-family='"Liberation Sans", sans-serif' font-size="17.5" font-weight="bold" text-anchor="end" letter-spacing="0.5" dy="6.26">P<tspan dx="0.3">.</tspan><tspan dx="1.0">WT</tspan></text>
<text transform="translate(625.85,540.9) rotate(-45)" font-family='"Liberation Sans", sans-serif' font-size="17.5" font-weight="bold" text-anchor="end" letter-spacing="0.5" dy="6.26">P<tspan dx="0.3">.</tspan><tspan dx="1.0">Δvfh</tspan></text>
<text transform="translate(676.6,540.9) rotate(-45)" font-family='"Liberation Sans", sans-serif' font-size="17.5" font-weight="bold" text-anchor="end" letter-spacing="0.5" dy="6.26">P<tspan dx="0.3">.</tspan><tspan dx="1.0">pUC-vfh</tspan></text>
<text transform="translate(727.2,540.9) rotate(-45)" font-family='"Liberation Sans", sans-serif' font-size="17.5" font-weight="bold" text-anchor="end" letter-spacing="0.5" dy="6.26">P<tspan dx="0.3">.</tspan><tspan dx="1.0">pUC18</tspan></text>
<text x="580.91" y="634.1" font-family='"Liberation Sans", sans-serif' font-size="17.2" font-weight="bold" textLength="74.19" lengthAdjust="spacingAndGlyphs">BMM(3h)</text>
<line x1="563.4" y1="361.9" x2="630" y2="361.9" stroke="#5a5a5a" stroke-width="1.5"/>
<text x="594.4" y="355.6" font-family='"Liberation Sans", sans-serif' font-size="23" text-anchor="middle" fill="#585858">**</text>
<line x1="666.4" y1="384.8" x2="733.3" y2="384.8" stroke="#5a5a5a" stroke-width="1.5"/>
<text x="698.9" y="378.6" font-family='"Liberation Sans", sans-serif' font-size="23" text-anchor="middle" fill="#585858">**</text>
<text x="9" y="659.2" font-family='"Liberation Sans", sans-serif' font-size="20" font-weight="bold" text-anchor="start" fill="#000">E</text>
<text transform="translate(37.3,806) rotate(-90)" font-family='"Liberation Sans", sans-serif' font-size="17.2" font-weight="bold" text-anchor="middle">% of LDH release</text>
<line x1="98.7" y1="879.79" x2="98.7" y2="870.95" stroke="#000" stroke-width="1.9"/>
<line x1="89.7" y1="870.95" x2="107.7" y2="870.95" stroke="#000" stroke-width="1.9"/>
<rect x="81.95" y="880.75" width="33.5" height="10.25" fill="#ffffff" stroke="#000" stroke-width="1.9"/>
<line x1="148.7" y1="744.5" x2="148.7" y2="739.64" stroke="#000" stroke-width="1.9"/>
<line x1="139.7" y1="739.64" x2="157.7" y2="739.64" stroke="#000" stroke-width="1.9"/>
<rect x="132.05" y="745.46" width="33.3" height="145.54" fill="#d5d5d5" stroke="#000" stroke-width="1.9"/>
<line x1="198.25" y1="850.5" x2="198.25" y2="833.02" stroke="#000" stroke-width="1.9"/>
<line x1="189.25" y1="833.02" x2="207.25" y2="833.02" stroke="#000" stroke-width="1.9"/>
<rect x="181.75" y="851.45" width="33" height="39.55" fill="#a6a6a6" stroke="#000" stroke-width="1.9"/>
<line x1="248.05" y1="761.11" x2="248.05" y2="754" stroke="#000" stroke-width="1.9"/>
<line x1="239.05" y1="754" x2="257.05" y2="754" stroke="#000" stroke-width="1.9"/>
<rect x="231.55" y="762.06" width="33" height="128.94" fill="#636363" stroke="#000" stroke-width="1.9"/>
<line x1="297.9" y1="863.86" x2="297.9" y2="851.28" stroke="#000" stroke-width="1.9"/>
<line x1="288.9" y1="851.28" x2="306.9" y2="851.28" stroke="#000" stroke-width="1.9"/>
<rect x="281.35" y="864.81" width="33.1" height="26.19" fill="#000000" stroke="#000" stroke-width="1.9"/>
<line x1="74.1" y1="724.1" x2="74.1" y2="891.9" stroke="#000" stroke-width="1.8"/>
<line x1="68.6" y1="891" x2="74.1" y2="891" stroke="#000" stroke-width="1.8"/>
<text x="67.5" y="897.05" font-family='"Liberation Sans", sans-serif' font-size="18" font-weight="bold" text-anchor="end" fill="#000">0</text>
<line x1="68.6" y1="849.5" x2="74.1" y2="849.5" stroke="#000" stroke-width="1.8"/>
<text x="67.5" y="855.55" font-family='"Liberation Sans", sans-serif' font-size="18" font-weight="bold" text-anchor="end" fill="#000">5</text>
<line x1="68.6" y1="808" x2="74.1" y2="808" stroke="#000" stroke-width="1.8"/>
<text x="67.5" y="814.05" font-family='"Liberation Sans", sans-serif' font-size="18" font-weight="bold" text-anchor="end" fill="#000">10</text>
<line x1="68.6" y1="766.5" x2="74.1" y2="766.5" stroke="#000" stroke-width="1.8"/>
<text x="67.5" y="772.55" font-family='"Liberation Sans", sans-serif' font-size="18" font-weight="bold" text-anchor="end" fill="#000">15</text>
<line x1="68.6" y1="725" x2="74.1" y2="725" stroke="#000" stroke-width="1.8"/>
<text x="67.5" y="731.05" font-family='"Liberation Sans", sans-serif' font-size="18" font-weight="bold" text-anchor="end" fill="#000">20</text>
<line x1="73.2" y1="891" x2="323.6" y2="891" stroke="#000" stroke-width="1.8"/>
<line x1="98.7" y1="891" x2="98.7" y2="896.9" stroke="#000" stroke-width="1.8"/>
<line x1="148.7" y1="891" x2="148.7" y2="896.9" stroke="#000" stroke-width="1.8"/>
<line x1="198.25" y1="891" x2="198.25" y2="896.9" stroke="#000" stroke-width="1.8"/>
<line x1="248.05" y1="891" x2="248.05" y2="896.9" stroke="#000" stroke-width="1.8"/>
<line x1="297.9" y1="891" x2="297.9" y2="896.9" stroke="#000" stroke-width="1.8"/>
<text transform="translate(98,911) rotate(-45)" font-family='"Liberation Sans", sans-serif' font-size="17.5" font-weight="bold" text-anchor="end" letter-spacing="0.05" dy="6.26">PBS</text>
<text transform="translate(148,911) rotate(-45)" font-family='"Liberation Sans", sans-serif' font-size="17.5" font-weight="bold" text-anchor="end" letter-spacing="0.05" dy="6.26">P<tspan dx="0.3">.</tspan><tspan dx="1.0">WT</tspan></text>
<text transform="translate(197.55,911) rotate(-45)" font-family='"Liberation Sans", sans-serif' font-size="17.5" font-weight="bold" text-anchor="end" letter-spacing="0.05" dy="6.26">P<tspan dx="0.3">.</tspan><tspan dx="1.0">Δvfh</tspan></text>
<text transform="translate(247.35,911) rotate(-45)" font-family='"Liberation Sans", sans-serif' font-size="17.5" font-weight="bold" text-anchor="end" letter-spacing="0.05" dy="6.26">P<tspan dx="0.3">.</tspan><tspan dx="1.0">pUC-vfh</tspan></text>
<text transform="translate(297.2,911) rotate(-45)" font-family='"Liberation Sans", sans-serif' font-size="17.5" font-weight="bold" text-anchor="end" letter-spacing="0.05" dy="6.26">P<tspan dx="0.3">.</tspan><tspan dx="1.0">pUC18</tspan></text>
<text x="155.12" y="1001.5" font-family='"Liberation Sans", sans-serif' font-size="17.2" font-weight="bold" textLength="73.57" lengthAdjust="spacingAndGlyphs">BMM(3h)</text>
<line x1="136.9" y1="728.4" x2="202.3" y2="728.4" stroke="#5a5a5a" stroke-width="1.5"/>
<text x="166.7" y="722.8" font-family='"Liberation Sans", sans-serif' font-size="23" text-anchor="middle" fill="#585858">**</text>
<line x1="239.4" y1="737.8" x2="305.3" y2="737.8" stroke="#5a5a5a" stroke-width="1.5"/>
<text x="272" y="730.8" font-family='"Liberation Sans", sans-serif' font-size="23" text-anchor="middle" fill="#585858">**</text>
<text x="406.3" y="659.2" font-family='"Liberation Sans", sans-serif' font-size="20" font-weight="bold" text-anchor="start" fill="#000">F</text>
<text transform="translate(455.3,807.4) rotate(-90)" font-family='"Liberation Sans", sans-serif' font-size="15.3" font-weight="bold" text-anchor="middle">concentration (pg/ml)</text>
<line x1="520.43" y1="876.32" x2="520.43" y2="872.98" stroke="#000" stroke-width="1.9"/>
<line x1="514.68" y1="872.98" x2="526.18" y2="872.98" stroke="#000" stroke-width="1.9"/>
<rect x="510.25" y="877.27" width="20.36" height="13.93" fill="#ffffff" stroke="#000" stroke-width="1.9"/>
<line x1="540.79" y1="790.04" x2="540.79" y2="786.36" stroke="#000" stroke-width="1.9"/>
<line x1="535.04" y1="786.36" x2="546.54" y2="786.36" stroke="#000" stroke-width="1.9"/>
<rect x="530.61" y="790.99" width="20.36" height="100.21" fill="#d5d5d5" stroke="#000" stroke-width="1.9"/>
<line x1="561.15" y1="776.48" x2="561.15" y2="738.42" stroke="#000" stroke-width="1.9"/>
<line x1="555.4" y1="738.42" x2="566.9" y2="738.42" stroke="#000" stroke-width="1.9"/>
<rect x="550.97" y="777.43" width="20.36" height="113.77" fill="#8a8a8a" stroke="#000" stroke-width="1.9"/>
<line x1="581.51" y1="783.42" x2="581.51" y2="761.23" stroke="#000" stroke-width="1.9"/>
<line x1="575.76" y1="761.23" x2="587.26" y2="761.23" stroke="#000" stroke-width="1.9"/>
<rect x="571.33" y="784.37" width="20.36" height="106.83" fill="#636363" stroke="#000" stroke-width="1.9"/>
<line x1="601.87" y1="790.04" x2="601.87" y2="772.47" stroke="#000" stroke-width="1.9"/>
<line x1="596.12" y1="772.47" x2="607.62" y2="772.47" stroke="#000" stroke-width="1.9"/>
<rect x="591.69" y="790.99" width="20.36" height="100.21" fill="#000000" stroke="#000" stroke-width="1.9"/>
<line x1="643.35" y1="877.65" x2="643.35" y2="875.95" stroke="#000" stroke-width="1.9"/>
<line x1="637.6" y1="875.95" x2="649.1" y2="875.95" stroke="#000" stroke-width="1.9"/>
<rect x="633.05" y="878.6" width="20.6" height="12.6" fill="#ffffff" stroke="#000" stroke-width="1.9"/>
<line x1="663.95" y1="859.46" x2="663.95" y2="853.47" stroke="#000" stroke-width="1.9"/>
<line x1="658.2" y1="853.47" x2="669.7" y2="853.47" stroke="#000" stroke-width="1.9"/>
<rect x="653.65" y="860.41" width="20.6" height="30.79" fill="#d5d5d5" stroke="#000" stroke-width="1.9"/>
<line x1="684.55" y1="845.58" x2="684.55" y2="830" stroke="#000" stroke-width="1.9"/>
<line x1="678.8" y1="830" x2="690.3" y2="830" stroke="#000" stroke-width="1.9"/>
<rect x="674.25" y="846.53" width="20.6" height="44.67" fill="#8a8a8a" stroke="#000" stroke-width="1.9"/>
<line x1="705.15" y1="858.14" x2="705.15" y2="857.77" stroke="#000" stroke-width="1.9"/>
<line x1="699.4" y1="857.77" x2="710.9" y2="857.77" stroke="#000" stroke-width="1.9"/>
<rect x="694.85" y="859.09" width="20.6" height="32.11" fill="#636363" stroke="#000" stroke-width="1.9"/>
<line x1="725.75" y1="845.25" x2="725.75" y2="831.32" stroke="#000" stroke-width="1.9"/>
<line x1="720" y1="831.32" x2="731.5" y2="831.32" stroke="#000" stroke-width="1.9"/>
<rect x="715.45" y="846.2" width="20.6" height="45" fill="#000000" stroke="#000" stroke-width="1.9"/>
<line x1="499.4" y1="725" x2="499.4" y2="892.1" stroke="#000" stroke-width="1.8"/>
<line x1="493.9" y1="891.2" x2="499.4" y2="891.2" stroke="#000" stroke-width="1.8"/>
<text x="492.8" y="897.25" font-family='"Liberation Sans", sans-serif' font-size="18" font-weight="bold" text-anchor="end" fill="#000">0</text>
<line x1="493.9" y1="858.14" x2="499.4" y2="858.14" stroke="#000" stroke-width="1.8"/>
<text x="492.8" y="864.19" font-family='"Liberation Sans", sans-serif' font-size="18" font-weight="bold" text-anchor="end" fill="#000">100</text>
<line x1="493.9" y1="825.08" x2="499.4" y2="825.08" stroke="#000" stroke-width="1.8"/>
<text x="492.8" y="831.13" font-family='"Liberation Sans", sans-serif' font-size="18" font-weight="bold" text-anchor="end" fill="#000">200</text>
<line x1="493.9" y1="792.02" x2="499.4" y2="792.02" stroke="#000" stroke-width="1.8"/>
<text x="492.8" y="798.07" font-family='"Liberation Sans", sans-serif' font-size="18" font-weight="bold" text-anchor="end" fill="#000">300</text>
<line x1="493.9" y1="758.96" x2="499.4" y2="758.96" stroke="#000" stroke-width="1.8"/>
<text x="492.8" y="765.01" font-family='"Liberation Sans", sans-serif' font-size="18" font-weight="bold" text-anchor="end" fill="#000">400</text>
<line x1="493.9" y1="725.9" x2="499.4" y2="725.9" stroke="#000" stroke-width="1.8"/>
<text x="492.8" y="731.95" font-family='"Liberation Sans", sans-serif' font-size="18" font-weight="bold" text-anchor="end" fill="#000">500</text>
<line x1="498.5" y1="891.2" x2="746" y2="891.2" stroke="#000" stroke-width="1.8"/>
<line x1="561.2" y1="891.2" x2="561.2" y2="897.1" stroke="#000" stroke-width="1.8"/>
<line x1="684" y1="891.2" x2="684" y2="897.1" stroke="#000" stroke-width="1.8"/>
<text x="561.5" y="912.8" font-family='"Liberation Sans", sans-serif' font-size="17.5" font-weight="bold" text-anchor="middle" fill="#000">TNF-α</text>
<text x="684.4" y="912.8" font-family='"Liberation Sans", sans-serif' font-size="17.5" font-weight="bold" text-anchor="middle" fill="#000">IL-6</text>
<text x="593.53" y="944.6" font-family='"Liberation Sans", sans-serif' font-size="17.2" font-weight="bold" textLength="73.47" lengthAdjust="spacingAndGlyphs">BMM(3h)</text>
<rect x="640.35" y="711.85" width="17.8" height="8.7" fill="#ffffff" stroke="#000000" stroke-width="1.7"/>
<text x="668" y="720.5" font-family='"Liberation Sans", sans-serif' font-size="13.3" font-weight="bold" text-anchor="start" fill="#000">PBS</text>
<rect x="640.35" y="730.85" width="17.8" height="8.7" fill="#d5d5d5" stroke="#000000" stroke-width="1.7"/>
<text x="668" y="739.5" font-family='"Liberation Sans", sans-serif' font-size="13.3" font-weight="bold" text-anchor="start" fill="#000">P.WT</text>
<rect x="640.35" y="749.85" width="17.8" height="8.7" fill="#8a8a8a" stroke="#000000" stroke-width="1.7"/>
<text x="668" y="758.5" font-family='"Liberation Sans", sans-serif' font-size="13.3" font-weight="bold" text-anchor="start" fill="#000">P.Δvfh</text>
<rect x="640.35" y="768.85" width="17.8" height="8.7" fill="#636363" stroke="#000000" stroke-width="1.7"/>
<text x="668" y="777.5" font-family='"Liberation Sans", sans-serif' font-size="13.3" font-weight="bold" text-anchor="start" fill="#000">P.pUC-vfh</text>
<rect x="640.35" y="787.85" width="17.8" height="8.7" fill="#000000" stroke="#000000" stroke-width="1.7"/>
<text x="668" y="796.5" font-family='"Liberation Sans", sans-serif' font-size="13.3" font-weight="bold" text-anchor="start" fill="#000">P.pUC18</text>
</svg>
</body></html>
